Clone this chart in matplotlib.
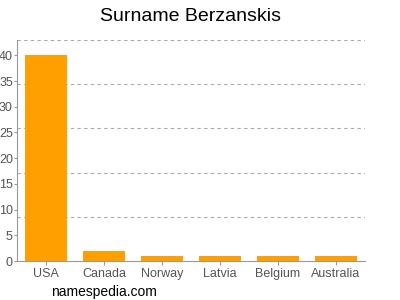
import matplotlib
matplotlib.use('Agg')
import matplotlib.pyplot as plt

plt.rcParams['font.family'] = ['Liberation Sans', 'DejaVu Sans']

# Данные графика
countries = ['USA', 'Canada', 'Norway', 'Latvia', 'Belgium', 'Australia']
counts = [40, 2, 1, 1, 1, 1]
y_ticks = [0, 5, 10, 15, 20, 25, 30, 35, 40]
y_max = 43

fig = plt.figure(figsize=(4, 3), dpi=100)
ax = fig.add_axes([0.0425, 0.13, 0.87, 0.737])

x = range(len(countries))
ax.bar(x, counts, width=0.74, color='#ffa000', zorder=2)

ax.set_xlim(-0.5, len(countries) - 0.5)
ax.set_ylim(0, y_max)
ax.set_xticks(list(x))
ax.set_xticklabels(countries)
ax.set_yticks(y_ticks)

# пунктирная сетка делит ось на 5 частей
for k in range(1, 6):
    ax.axhline(y_max * k / 5, color='#aaaaaa', linestyle=(0, (3, 3)),
               linewidth=0.8, zorder=1)

for side in ['top', 'right']:
    ax.spines[side].set_visible(False)
ax.spines['left'].set_color('#999999')
ax.spines['bottom'].set_color('#999999')
ax.tick_params(colors='#999999', labelcolor='#555555', labelsize=9,
               length=3, width=0.8)
ax.tick_params(axis='y', pad=1, length=2)
ax.tick_params(axis='x', pad=2)

fig.text(0.475, 0.945, 'Surname Berzanskis', ha='center', va='center',
         fontsize=14)
fig.text(0.26, 0.027, 'namespedia.com', ha='center', va='center',
         fontsize=10)

fig.savefig('out.png', dpi=100)
